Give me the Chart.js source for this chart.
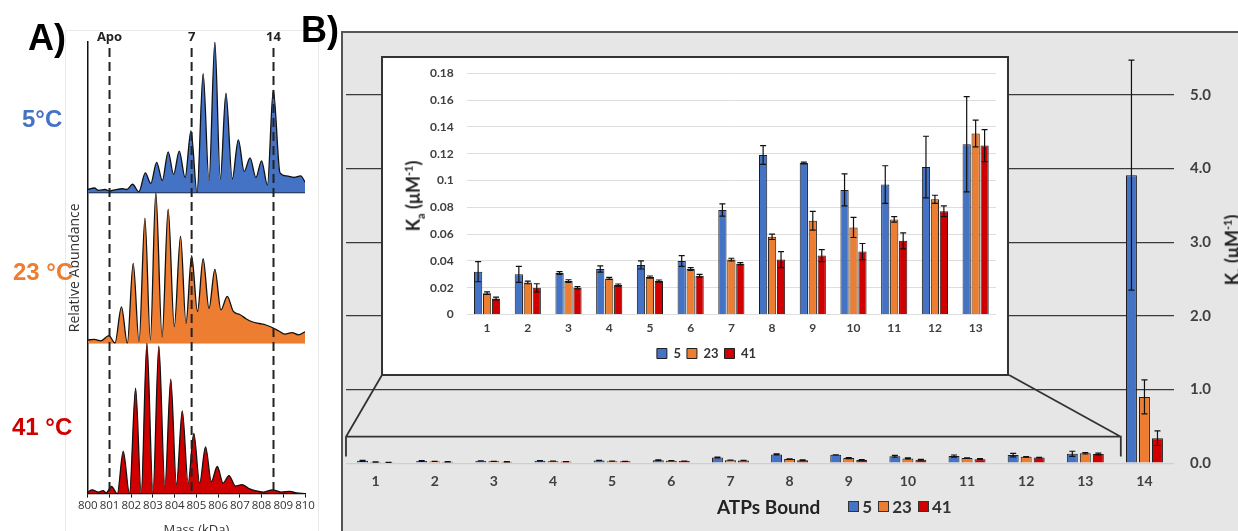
<!DOCTYPE html>
<html>
<head>
<meta charset="utf-8">
<script src="https://cdn.jsdelivr.net/npm/chart.js@4.4.1/dist/chart.umd.min.js"></script>
<style>
  html, body { margin: 0; padding: 0; background: #fff; }
  body { width: 1238px; height: 531px; overflow: hidden; position: relative; font-family: 'Lato', 'Open Sans', sans-serif; }
  .abs { position: absolute; }
  .panel-label { font-family: 'Liberation Sans', Arial, sans-serif; font-weight: bold; font-size: 36px; color: #000; line-height: 1; }
  .temp { font-family: 'Liberation Sans', Arial, sans-serif; font-weight: bold; font-size: 24px; line-height: 1; }
  #frameA { left: 65px; top: 30px; width: 252px; height: 520px; border: 1px solid #e9e9e9; border-bottom: none; }
  #panelB { left: 341px; top: 31px; width: 897px; height: 500px; background: #e6e6e6; border-top: 2px solid #555; border-left: 2px solid #555; box-sizing: border-box; }
  #inset { left: 381px; top: 56px; width: 628px; height: 320px; background: #fff; border: 2px solid #333; box-sizing: border-box; }
  .ytitle { font-weight: bold; font-size: 18px; color: #222; white-space: nowrap; transform: translate(-50%, -50%) rotate(-90deg); }
  .ytitle sub, .ytitle sup { font-size: 11px; }
  .legend-row { font-weight: bold; color: #333; white-space: nowrap; display: flex; align-items: center; }
  .sw { display: inline-block; width: 11px; height: 11px; border: 1px solid #333; box-sizing: border-box; margin: 0 3px 0 6px; }
</style>
</head>
<body>
<div id="frameA" class="abs"></div>
<canvas id="specChart" class="abs" style="left:65px;top:30px;"></canvas>

<div class="abs panel-label" style="left:28px;top:20px;">A)</div>
<div class="abs temp" style="left:22px;top:107px;color:#4472C4;">5°C</div>
<div class="abs temp" style="left:13px;top:260px;color:#ED7D31;">23 °C</div>
<div class="abs temp" style="left:12px;top:415px;color:#D00000;">41 °C</div>

<div id="panelB" class="abs"></div>
<canvas id="mainChart" class="abs" style="left:343px;top:33px;"></canvas>
<div class="abs panel-label" style="left:301px;top:12px;">B)</div>

<div id="inset" class="abs"></div>
<canvas id="insetChart" class="abs" style="left:383px;top:53px;"></canvas>

<div class="abs ytitle" style="left:414px;top:196px;">K<sub>a</sub> (μM<sup>-1</sup>)</div>
<div class="abs ytitle" style="left:1233px;top:250px;">K<sub>a</sub> (μM<sup>-1</sup>)</div>

<div class="abs legend-row" style="left:717px;top:495px;">
  <span style="font-size:19px;color:#222;margin-right:22px;">ATPs Bound</span>
  <span class="sw" style="background:#4472C4"></span><span style="font-size:17px">5</span>
  <span class="sw" style="background:#ED7D31"></span><span style="font-size:17px">23</span>
  <span class="sw" style="background:#D00000"></span><span style="font-size:17px">41</span>
</div>

<script>
// ---- Panel A: native mass spectra (relative abundance, %) ----
const markerMasses = [801.0, 804.78, 808.55];
const markerLabels = ['Apo', '7', '14'];

const mass5 = [800.0, 800.3, 800.5, 800.8, 801.0, 801.3, 801.6, 801.8, 802.06, 802.35, 802.65, 802.9, 803.17, 803.43,
  803.7, 803.95, 804.21, 804.48, 804.75, 805.03, 805.31, 805.58, 805.85, 806.1, 806.36, 806.65, 806.93, 807.2,
  807.47, 807.74, 808.0, 808.27, 808.54, 808.85, 809.15, 809.5, 809.8, 810.0];
const abund5 = [2, 3, 1.5, 2, 1, 2, 2.5, 2, 5.5, 0.5, 13, 6, 20, 8,
  27, 12, 27.5, 10, 41, 0, 79, 8, 100, 9, 66, 9, 35, 14,
  23, 10, 21, 5, 68, 13, 11, 10, 11, 7];

const mass23 = [800.0, 800.3, 800.6, 800.97, 801.25, 801.55, 801.82, 802.09, 802.36, 802.63, 802.88, 803.13, 803.42,
  803.7, 803.98, 804.27, 804.52, 804.78, 805.05, 805.31, 805.58, 805.85, 806.13, 806.42, 806.7, 807.0, 807.3,
  807.6, 807.9, 808.2, 808.54, 808.8, 809.07, 809.4, 809.7, 810.0];
const abund23 = [2, 2.5, 1.5, 5, 0, 24, 0, 53, 1, 83, 2, 100, 4,
  89, 11, 71, 13, 58, 21, 56, 23, 49, 22, 31, 21, 19, 16,
  14, 13, 12, 10, 8, 6, 7, 5.5, 7.5];

const mass41 = [800.0, 800.2, 800.5, 800.7, 800.85, 801.09, 801.36, 801.63, 801.92, 802.2, 802.46, 802.72, 803.0,
  803.27, 803.55, 803.82, 804.08, 804.35, 804.62, 804.88, 805.15, 805.42, 805.69, 805.96, 806.23, 806.5, 806.8,
  807.1, 807.4, 807.7, 808.1, 808.5, 808.9, 809.3, 809.6, 810.0];
const abund41 = [1, 2.5, 1, 2, 0.5, 4.7, 0, 28, 0, 70, 0, 100, 1,
  98, 5, 76, 6, 55, 7, 40, 7, 31, 8, 18, 7, 12, 5,
  6, 3.5, 2, 1, 2.5, 1, 1.5, 0.5, 0];

// ---- Panel B: association constants (uM^-1) by ATPs bound ----
const atpLabels = ['1', '2', '3', '4', '5', '6', '7', '8', '9', '10', '11', '12', '13', '14'];
const tempLabels = ['5', '23', '41'];
const ka5  = [0.032, 0.030, 0.031, 0.034, 0.037, 0.040, 0.078, 0.119, 0.113, 0.093, 0.097, 0.110, 0.127, 3.91];
const ka23 = [0.016, 0.024, 0.025, 0.027, 0.028, 0.034, 0.041, 0.058, 0.070, 0.065, 0.071, 0.086, 0.135, 0.90];
const ka41 = [0.012, 0.020, 0.020, 0.022, 0.025, 0.029, 0.038, 0.041, 0.044, 0.047, 0.055, 0.077, 0.126, 0.34];
const err5  = [0.0075, 0.006, 0.001, 0.0023, 0.003, 0.004, 0.0045, 0.007, 0.0007, 0.012, 0.014, 0.023, 0.0355, 1.56];
const err23 = [0.001, 0.001, 0.001, 0.0008, 0.0008, 0.001, 0.001, 0.002, 0.007, 0.0075, 0.002, 0.003, 0.010, 0.23];
const err41 = [0.001, 0.003, 0.0008, 0.0008, 0.0008, 0.001, 0.0008, 0.006, 0.0045, 0.006, 0.006, 0.004, 0.012, 0.10];

const colors = ['#4472C4', '#ED7D31', '#D00000'];
const barBorder = '#1e1e1e';

function sizeCanvas(id, w, h) {
  const c = document.getElementById(id);
  c.width = w; c.height = h;
  c.style.width = w + 'px'; c.style.height = h + 'px';
  return c.getContext('2d');
}

// dashed reference lines + labels over the spectra
const markerPlugin = {
  id: 'markers',
  afterDatasetsDraw(chart) {
    const { ctx, chartArea } = chart;
    const x = chart.scales.x;
    ctx.save();
    ctx.strokeStyle = '#222';
    ctx.lineWidth = 2;
    ctx.setLineDash([9, 5]);
    ctx.font = 'bold 13px "Open Sans", sans-serif';
    ctx.fillStyle = '#222';
    ctx.textAlign = 'center';
    ctx.textBaseline = 'bottom';
    markerMasses.forEach((m, i) => {
      const px = x.getPixelForValue(m);
      ctx.beginPath();
      ctx.moveTo(px, chartArea.top + 6);
      ctx.lineTo(px, chartArea.bottom);
      ctx.stroke();
      ctx.fillText(markerLabels[i], px, chartArea.top + 2);
    });
    ctx.restore();
  }
};

function stacked(mass, abund, offset) {
  return mass.map((m, i) => ({ x: m, y: abund[i] + offset }));
}

function specDataset(mass, abund, offset, color) {
  return {
    data: stacked(mass, abund, offset),
    borderColor: '#111',
    borderWidth: 1.3,
    backgroundColor: color,
    fill: { value: offset },
    pointRadius: 0,
    cubicInterpolationMode: 'monotone'
  };
}

new Chart(sizeCanvas('specChart', 253, 508), {
  type: 'line',
  data: {
    datasets: [
      specDataset(mass5, abund5, 200, colors[0]),
      specDataset(mass23, abund23, 100, colors[1]),
      specDataset(mass41, abund41, 0, colors[2])
    ]
  },
  options: {
    responsive: false,
    animation: false,
    layout: { padding: { left: 2, right: 13, top: 12, bottom: 0 } },
    plugins: { legend: { display: false }, tooltip: { enabled: false } },
    scales: {
      x: {
        type: 'linear', min: 800, max: 810,
        ticks: { stepSize: 1, autoSkip: false, maxRotation: 0, padding: 1, color: '#333',
          font: { family: '"Open Sans", sans-serif', size: 11.5 } },
        grid: { drawOnChartArea: false, tickLength: 4, color: '#111' },
        border: { display: true, color: '#111', width: 1.3 },
        title: { display: true, text: 'Mass (kDa)', color: '#333', padding: { top: 9, bottom: 0 },
          font: { family: '"Open Sans", sans-serif', size: 13 } }
      },
      y: {
        min: 0, max: 300, z: 1,
        ticks: { display: false, stepSize: 100 },
        grid: { drawTicks: false, lineWidth: 1.3,
          color: c => (c.tick && (c.tick.value === 100 || c.tick.value === 200)) ? '#111' : 'rgba(0,0,0,0)' },
        border: { display: true, color: '#111', width: 1.5 },
        title: { display: true, text: 'Relative Abundance', color: '#333', padding: { top: 0, bottom: 4 },
          font: { family: '"Open Sans", sans-serif', size: 14 } }
      }
    }
  },
  plugins: [markerPlugin]
});

// error bars for grouped bar charts
const errorBarPlugin = {
  id: 'errorBars',
  afterDatasetsDraw(chart, args, opts) {
    const { ctx } = chart;
    const y = chart.scales.y;
    ctx.save();
    ctx.strokeStyle = '#111';
    ctx.lineWidth = opts.lineWidth || 1.2;
    chart.data.datasets.forEach((ds, di) => {
      const meta = chart.getDatasetMeta(di);
      meta.data.forEach((bar, i) => {
        const v = ds.data[i], e = ds.errors[i];
        const top = y.getPixelForValue(v + e);
        const bot = y.getPixelForValue(Math.max(0, v - e));
        const cw = opts.cap / 2;
        ctx.beginPath();
        ctx.moveTo(bar.x, bot); ctx.lineTo(bar.x, top);
        ctx.moveTo(bar.x - cw, top); ctx.lineTo(bar.x + cw, top);
        ctx.moveTo(bar.x - cw, bot); ctx.lineTo(bar.x + cw, bot);
        ctx.stroke();
      });
    });
    ctx.restore();
  }
};

// zoom bracket linking categories 1-13 to the inset box
const insetBox = { left: 39, right: 666, bottom: 342 }; // inset corners in main canvas px
const bracketPlugin = {
  id: 'bracket',
  afterDatasetsDraw(chart) {
    const { ctx } = chart;
    const x = chart.scales.x, y = chart.scales.y;
    const l = x.getPixelForValue(-0.5), r = x.getPixelForValue(12.6);
    const top = y.getPixelForValue(0.36), bot = y.getPixelForValue(0.09);
    ctx.save();
    ctx.strokeStyle = '#333';
    ctx.lineWidth = 1.8;
    ctx.beginPath();
    ctx.moveTo(insetBox.left, insetBox.bottom); ctx.lineTo(l, top); ctx.lineTo(l, bot);
    ctx.moveTo(l, top); ctx.lineTo(r, top); ctx.lineTo(r, bot);
    ctx.moveTo(insetBox.right, insetBox.bottom); ctx.lineTo(r, top);
    ctx.stroke();
    ctx.restore();
  }
};

function barDataset(label, data, errors, color) {
  return { label, data, errors, backgroundColor: color, borderColor: barBorder, borderWidth: 1 };
}

const boldFont = s => ({ family: 'Lato, "Open Sans", sans-serif', size: s, weight: 'bold' });

new Chart(sizeCanvas('mainChart', 895, 498), {
  type: 'bar',
  data: {
    labels: atpLabels,
    datasets: [
      barDataset(tempLabels[0], ka5, err5, colors[0]),
      barDataset(tempLabels[1], ka23, err23, colors[1]),
      barDataset(tempLabels[2], ka41, err41, colors[2])
    ]
  },
  options: {
    responsive: false,
    animation: false,
    categoryPercentage: 0.66,
    barPercentage: 0.84,
    layout: { padding: { left: 3, right: 11, top: 0, bottom: 31 } },
    plugins: { legend: { display: false }, tooltip: { enabled: false }, errorBars: { cap: 6, lineWidth: 1.2 } },
    scales: {
      x: {
        ticks: { color: '#404040', font: boldFont(14), padding: 10 },
        grid: { display: false, drawTicks: false },
        border: { display: false }
      },
      y: {
        position: 'right', min: 0, max: 5.5,
        afterBuildTicks: axis => { axis.ticks = [0, 1, 2, 3, 4, 5].map(v => ({ value: v })); },
        ticks: { color: '#404040', font: boldFont(15), padding: 16, callback: v => Number(v).toFixed(1) },
        grid: { drawTicks: false, lineWidth: 1.2, color: c => (c.tick && c.tick.value === 0) ? '#cfcfcf' : '#3a3a3a' },
        border: { display: false }
      }
    }
  },
  plugins: [errorBarPlugin, bracketPlugin]
});

new Chart(sizeCanvas('insetChart', 624, 321), {
  type: 'bar',
  data: {
    labels: atpLabels.slice(0, 13),
    datasets: [
      barDataset(tempLabels[0], ka5.slice(0, 13), err5.slice(0, 13), colors[0]),
      barDataset(tempLabels[1], ka23.slice(0, 13), err23.slice(0, 13), colors[1]),
      barDataset(tempLabels[2], ka41.slice(0, 13), err41.slice(0, 13), colors[2])
    ]
  },
  options: {
    responsive: false,
    animation: false,
    categoryPercentage: 0.66,
    barPercentage: 0.92,
    layout: { padding: { left: 34, right: 11, top: 3, bottom: 4 } },
    plugins: {
      tooltip: { enabled: false },
      errorBars: { cap: 6, lineWidth: 1.2 },
      legend: {
        position: 'bottom',
        labels: { boxWidth: 10, boxHeight: 10, padding: 6, color: '#333', font: boldFont(13) }
      }
    },
    scales: {
      x: {
        ticks: { color: '#404040', font: boldFont(12), padding: 6 },
        grid: { display: false, drawTicks: false },
        border: { display: false }
      },
      y: {
        min: 0, max: 0.18,
        ticks: { stepSize: 0.02, color: '#404040', font: boldFont(12), padding: 13,
          callback: v => String(Number(v.toFixed(2))) },
        grid: { drawTicks: false, lineWidth: 1, color: '#dedede' },
        border: { display: false }
      }
    }
  },
  plugins: [errorBarPlugin]
});
</script>
</body>
</html>
